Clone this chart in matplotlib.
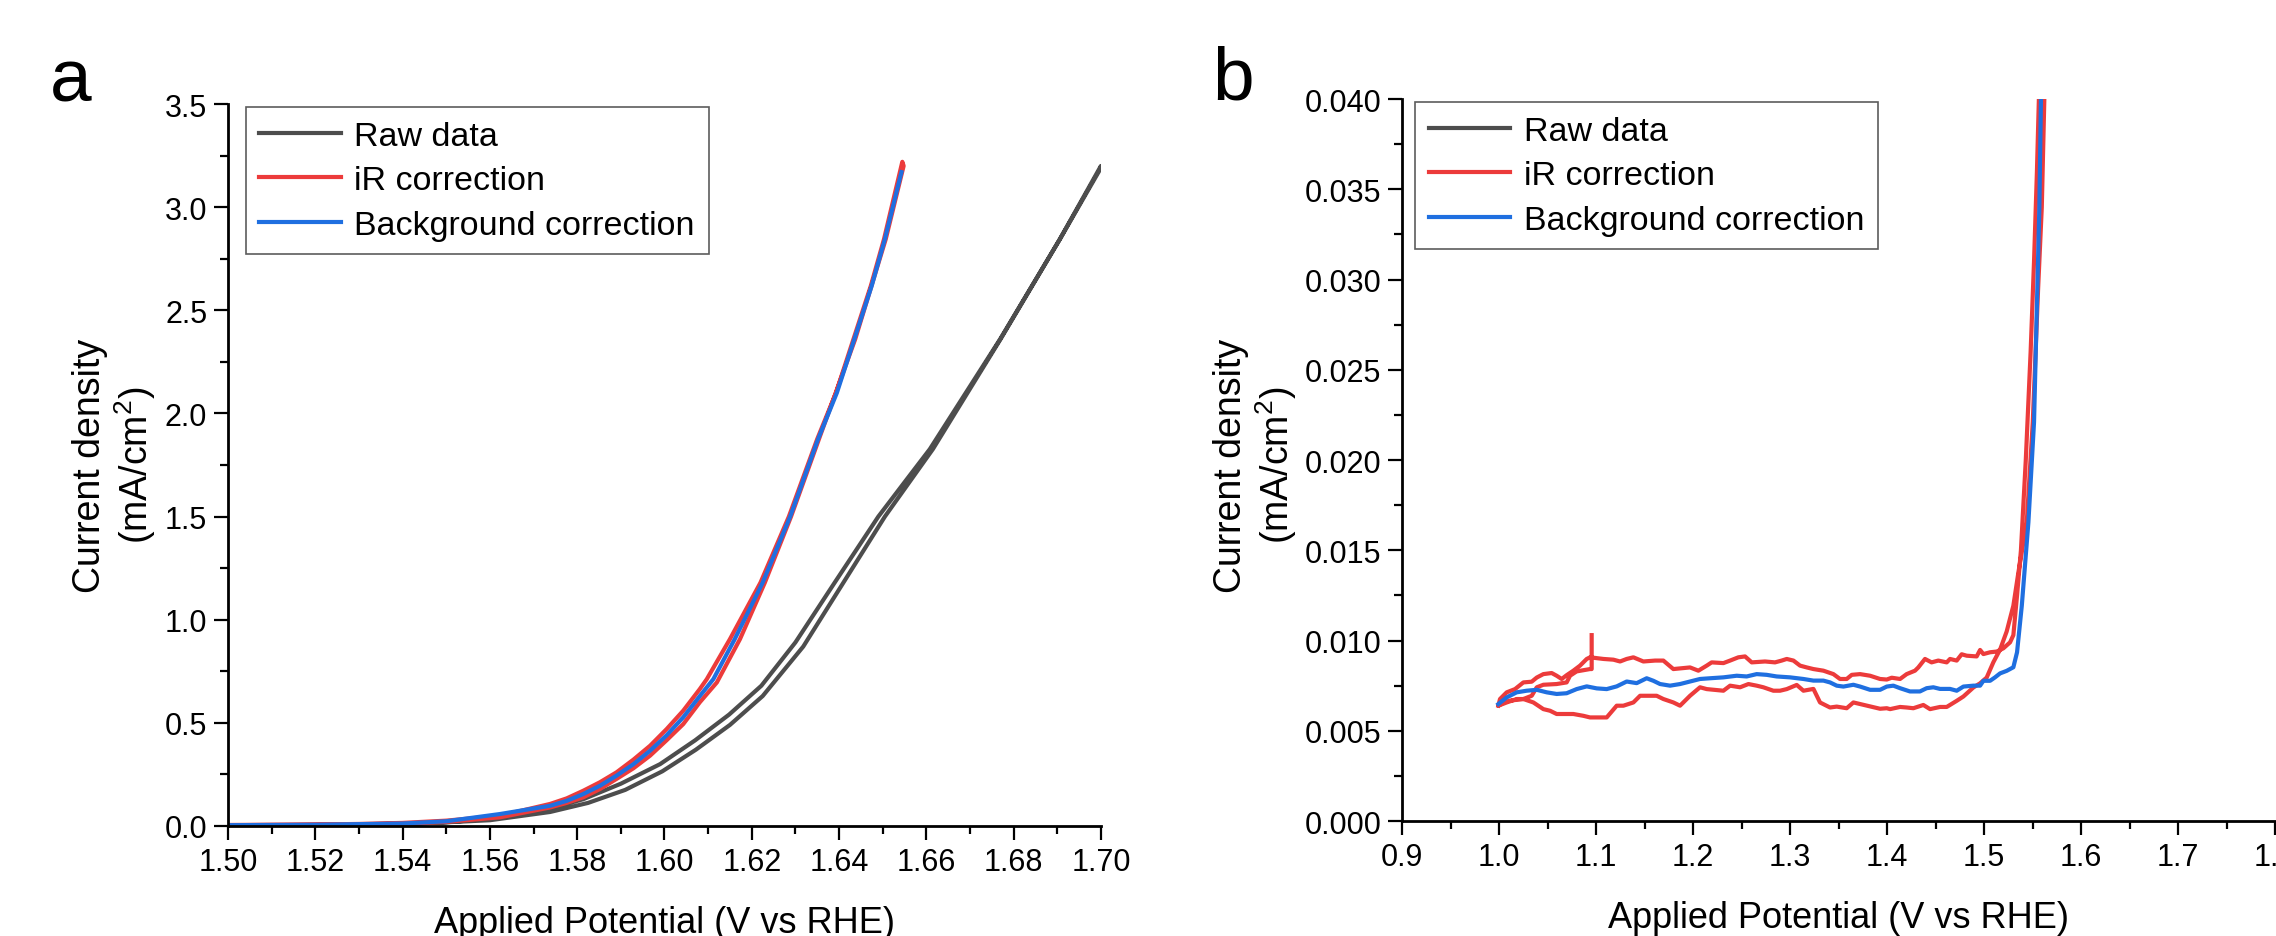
import matplotlib
matplotlib.use("Agg")
import matplotlib.pyplot as plt
from matplotlib.ticker import MultipleLocator, FormatStrFormatter

# ------------------------------
# Style
# ------------------------------
plt.rcParams["font.family"] = ["Liberation Sans", "DejaVu Sans"]
plt.rcParams["mathtext.fontset"] = "custom"
plt.rcParams["mathtext.rm"] = "Liberation Sans"
plt.rcParams["mathtext.it"] = "Liberation Sans:italic"

GRAY = "#4d4d4d"
RED = "#ec3b3b"
BLUE = "#1f6fe0"

# ------------------------------
# Panel a data (V vs RHE, mA/cm2)
# ------------------------------
raw_up_v = [1.500, 1.520, 1.540, 1.550, 1.560, 1.5738, 1.5814, 1.590, 1.5990, 1.6070,
            1.6148, 1.6222, 1.6300, 1.6390, 1.6490, 1.6608, 1.6769, 1.6906, 1.700]
raw_up_j = [0.003, 0.005, 0.010, 0.018, 0.035, 0.085, 0.130, 0.205, 0.300, 0.415,
            0.540, 0.680, 0.890, 1.180, 1.500, 1.827, 2.360, 2.845, 3.200]
raw_dn_v = [1.700, 1.6906, 1.677, 1.6615, 1.6505, 1.6410, 1.6318, 1.6225, 1.6150, 1.6072,
            1.5995, 1.591, 1.5825, 1.5738, 1.560, 1.540, 1.500]
raw_dn_j = [3.190, 2.845, 2.360, 1.827, 1.500, 1.180, 0.870, 0.630, 0.490, 0.370,
            0.265, 0.175, 0.112, 0.068, 0.028, 0.008, 0.002]

ir_up_v = [1.500, 1.520, 1.530, 1.540, 1.550, 1.5623, 1.5738, 1.5776, 1.5814, 1.5852,
           1.589, 1.5929, 1.5967, 1.6005, 1.6043, 1.6081, 1.6097, 1.615, 1.622, 1.6285,
           1.635, 1.6393, 1.6433, 1.6473, 1.6503, 1.6545]
ir_up_j = [0.005, 0.007, 0.010, 0.015, 0.026, 0.050, 0.107, 0.134, 0.171, 0.212,
           0.260, 0.322, 0.389, 0.470, 0.559, 0.664, 0.712, 0.906, 1.180, 1.500,
           1.876, 2.100, 2.360, 2.620, 2.845, 3.220]
ir_dn_v = [1.6548, 1.6507, 1.6437, 1.6354, 1.629, 1.623, 1.6173, 1.612, 1.6081, 1.6043,
           1.6005, 1.5967, 1.5929, 1.589, 1.5852, 1.5814, 1.5776, 1.5738, 1.5623, 1.550,
           1.540, 1.520, 1.500]
ir_dn_j = [3.200, 2.845, 2.360, 1.876, 1.500, 1.180, 0.906, 0.696, 0.600, 0.494,
           0.416, 0.341, 0.280, 0.228, 0.179, 0.139, 0.112, 0.090, 0.042, 0.020,
           0.011, 0.006, 0.004]

bg_v = [1.500, 1.520, 1.540, 1.550, 1.5623, 1.5738, 1.5776, 1.5814, 1.5852, 1.589,
        1.5929, 1.5967, 1.6005, 1.6043, 1.6081, 1.6112, 1.6161, 1.6225, 1.6288, 1.6352,
        1.6395, 1.6435, 1.6475, 1.6505, 1.6543]
bg_j = [0.004, 0.006, 0.012, 0.023, 0.058, 0.098, 0.122, 0.155, 0.195, 0.244,
        0.300, 0.365, 0.440, 0.527, 0.630, 0.712, 0.906, 1.180, 1.500, 1.876,
        2.100, 2.360, 2.620, 2.845, 3.170]

# ------------------------------
# Panel b data (zoom on the low current region)
# ------------------------------
# iR correction: forward scan, backward scan, then restart up to 1.1 V (spike)
ir_b_v = [0.9993, 1.0010, 1.0079, 1.0165, 1.0251, 1.0337, 1.0389, 1.0457, 1.0543, 1.0594,
          1.0646, 1.0697, 1.0766, 1.0835, 1.0904, 1.0938, 1.1076, 1.1179, 1.1248, 1.1316,
          1.1385, 1.1488, 1.1609, 1.1694, 1.1797, 1.1969, 1.2055, 1.2141, 1.2192, 1.2313,
          1.2382, 1.2467, 1.2536, 1.2605, 1.2742, 1.2845, 1.2914, 1.2966, 1.3035, 1.3103,
          1.3172, 1.3241, 1.3344, 1.3447, 1.3515, 1.3584, 1.3636, 1.3722, 1.3825, 1.3928,
          1.3997, 1.4048, 1.4134, 1.4202, 1.4288, 1.4322, 1.4391, 1.4459, 1.4528, 1.4615,
          1.4649, 1.4718, 1.4769, 1.4821, 1.4924, 1.4959, 1.4993, 1.5062, 1.5131, 1.5199,
          1.5268, 1.5302, 1.5340, 1.5380, 1.5430, 1.5480, 1.5515, 1.5545, 1.5575,
          # backward
          1.5630, 1.5595, 1.5557, 1.5502, 1.5440, 1.5354, 1.5302, 1.5233, 1.5165, 1.5096,
          1.5027, 1.4959, 1.4890, 1.4787, 1.4718, 1.4649, 1.4615, 1.4546, 1.4443, 1.4374,
          1.4271, 1.4202, 1.4134, 1.4031, 1.3997, 1.3928, 1.3721, 1.3653, 1.3584, 1.3481,
          1.3412, 1.3309, 1.3241, 1.3138, 1.3069, 1.2966, 1.2897, 1.2828, 1.2725, 1.2656,
          1.2571, 1.2485, 1.2382, 1.2313, 1.2141, 1.2072, 1.1969, 1.1866, 1.1797, 1.1694,
          1.1625, 1.1557, 1.1454, 1.1385, 1.1282, 1.1213, 1.1110, 1.1041, 1.0938, 1.0869,
          1.0766, 1.0594, 1.0526, 1.0457, 1.0354, 1.0251, 1.0182, 1.0079, 0.9993,
          # restart towards 1.1 V
          1.0045, 1.0113, 1.0251, 1.0337, 1.0389, 1.0457, 1.0594, 1.0697, 1.0732, 1.0800,
          1.0938, 1.0955, 1.0955]
ir_b_j = [0.00639, 0.00676, 0.00713, 0.00731, 0.00768, 0.00772, 0.00795, 0.00814, 0.00820, 0.00805,
          0.00787, 0.00808, 0.00833, 0.00861, 0.00898, 0.00907, 0.00898, 0.00894, 0.00884, 0.00898,
          0.00907, 0.00884, 0.00889, 0.00889, 0.00842, 0.00851, 0.00833, 0.00861, 0.00879, 0.00875,
          0.00889, 0.00907, 0.00912, 0.00879, 0.00884, 0.00879, 0.00889, 0.00898, 0.00889, 0.00861,
          0.00851, 0.00842, 0.00833, 0.00814, 0.00787, 0.00787, 0.00810, 0.00814, 0.00805, 0.00787,
          0.00784, 0.00794, 0.00787, 0.00814, 0.00833, 0.00851, 0.00898, 0.00879, 0.00889, 0.00879,
          0.00898, 0.00889, 0.00924, 0.00916, 0.00912, 0.00948, 0.00925, 0.00935, 0.00939, 0.00957,
          0.00990, 0.01030, 0.01250, 0.01500, 0.02000, 0.02600, 0.03100, 0.03600, 0.04200,
          # backward
          0.04200, 0.03400, 0.02947, 0.02209, 0.01655, 0.01378, 0.01193, 0.01050, 0.00950, 0.00880,
          0.00795, 0.00763, 0.00740, 0.00690, 0.00666, 0.00643, 0.00632, 0.00632, 0.00620, 0.00643,
          0.00625, 0.00629, 0.00632, 0.00620, 0.00625, 0.00622, 0.00648, 0.00657, 0.00625, 0.00634,
          0.00629, 0.00657, 0.00732, 0.00722, 0.00754, 0.00731, 0.00722, 0.00722, 0.00741, 0.00750,
          0.00759, 0.00741, 0.00750, 0.00722, 0.00731, 0.00741, 0.00694, 0.00639, 0.00657, 0.00676,
          0.00694, 0.00694, 0.00694, 0.00657, 0.00639, 0.00639, 0.00574, 0.00574, 0.00574, 0.00583,
          0.00593, 0.00593, 0.00611, 0.00620, 0.00657, 0.00676, 0.00676, 0.00657, 0.00639,
          # restart
          0.00657, 0.00667, 0.00676, 0.00694, 0.00741, 0.00755, 0.00759, 0.00768, 0.00805, 0.00829,
          0.00842, 0.00842, 0.01030]

bg_b_v = [0.9993, 1.0079, 1.0182, 1.0285, 1.0389, 1.0492, 1.0594, 1.0697, 1.0800, 1.0904,
          1.1007, 1.1110, 1.1213, 1.1316, 1.1419, 1.1522, 1.1591, 1.1660, 1.1763, 1.1866,
          1.1969, 1.2072, 1.2175, 1.2313, 1.2450, 1.2553, 1.2656, 1.2759, 1.2862, 1.3000,
          1.3138, 1.3241, 1.3344, 1.3412, 1.3481, 1.3550, 1.3653, 1.3722, 1.3825, 1.3928,
          1.3997, 1.4065, 1.4134, 1.4236, 1.4339, 1.4408, 1.4477, 1.4546, 1.4649, 1.4718,
          1.4787, 1.4890, 1.4959, 1.4993, 1.5062, 1.5113, 1.5165, 1.5233, 1.5302, 1.5340,
          1.5389, 1.5457, 1.5515, 1.5570, 1.5600]
bg_b_j = [0.00648, 0.00685, 0.00713, 0.00722, 0.00727, 0.00713, 0.00704, 0.00708, 0.00731, 0.00746,
          0.00735, 0.00731, 0.00746, 0.00773, 0.00764, 0.00791, 0.00777, 0.00759, 0.00750, 0.00759,
          0.00773, 0.00787, 0.00791, 0.00796, 0.00805, 0.00801, 0.00814, 0.00810, 0.00801, 0.00796,
          0.00787, 0.00778, 0.00778, 0.00768, 0.00750, 0.00745, 0.00755, 0.00745, 0.00727, 0.00727,
          0.00745, 0.00750, 0.00736, 0.00718, 0.00718, 0.00736, 0.00741, 0.00732, 0.00732, 0.00722,
          0.00745, 0.00750, 0.00750, 0.00777, 0.00777, 0.00796, 0.00818, 0.00832, 0.00852, 0.00935,
          0.01193, 0.01655, 0.02209, 0.03400, 0.04500]

# axis ranges
a_xlim = (1.50, 1.70)
a_ylim = (0.0, 3.5)
b_xlim = (0.9, 1.8)
b_ylim = (0.0, 0.040)


def style_axis(ax):
    ax.spines["top"].set_visible(False)
    ax.spines["right"].set_visible(False)
    ax.spines["left"].set_linewidth(2)
    ax.spines["bottom"].set_linewidth(2)
    ax.tick_params(which="major", direction="out", length=10, width=1.6, labelsize=22, pad=5)
    ax.tick_params(which="minor", direction="out", length=5.5, width=1.6)


def add_legend(ax, x0):
    leg = ax.legend(loc="upper left", bbox_to_anchor=(x0, 0.996), borderaxespad=0,
                    fontsize=24.5, frameon=True, fancybox=False, edgecolor="#333333",
                    handlelength=2.4, handletextpad=0.4, labelspacing=0.4, borderpad=0.4)
    leg.get_frame().set_linewidth(1.2)
    return leg


fig = plt.figure(figsize=(22.76, 9.37), dpi=100)

# ------------------------------
# Panel a
# ------------------------------
ax1 = fig.add_axes([0.1002, 0.1174, 0.3835, 0.7705])
ax1.plot(raw_up_v + raw_dn_v, raw_up_j + raw_dn_j, color=GRAY, lw=3, label="Raw data")
ax1.plot(ir_up_v + ir_dn_v, ir_up_j + ir_dn_j, color=RED, lw=3, label="iR correction")
ax1.plot(bg_v, bg_j, color=BLUE, lw=3, label="Background correction")
ax1.set_xlim(*a_xlim)
ax1.set_ylim(*a_ylim)
ax1.xaxis.set_major_locator(MultipleLocator(0.02))
ax1.xaxis.set_minor_locator(MultipleLocator(0.01))
ax1.xaxis.set_major_formatter(FormatStrFormatter("%.2f"))
ax1.yaxis.set_major_locator(MultipleLocator(0.5))
ax1.yaxis.set_minor_locator(MultipleLocator(0.25))
ax1.yaxis.set_major_formatter(FormatStrFormatter("%.1f"))
style_axis(ax1)
ax1.set_xlabel("Applied Potential (V vs RHE)", fontsize=26, labelpad=20)
add_legend(ax1, 0.02)

# ------------------------------
# Panel b
# ------------------------------
ax2 = fig.add_axes([0.6160, 0.1227, 0.3836, 0.7705])
ax2.plot([], [], color=GRAY, lw=3, label="Raw data")
ax2.plot(ir_b_v, ir_b_j, color=RED, lw=3, label="iR correction")
ax2.plot(bg_b_v, bg_b_j, color=BLUE, lw=3, label="Background correction")
ax2.set_xlim(*b_xlim)
ax2.set_ylim(*b_ylim)
ax2.xaxis.set_major_locator(MultipleLocator(0.1))
ax2.xaxis.set_minor_locator(MultipleLocator(0.05))
ax2.xaxis.set_major_formatter(FormatStrFormatter("%.1f"))
ax2.yaxis.set_major_locator(MultipleLocator(0.005))
ax2.yaxis.set_minor_locator(MultipleLocator(0.0025))
ax2.yaxis.set_major_formatter(FormatStrFormatter("%.3f"))
style_axis(ax2)
ax2.set_xlabel("Applied Potential (V vs RHE)", fontsize=26, labelpad=20)
add_legend(ax2, 0.015)

# y labels and panel letters
for xc in (115 / 2276, 1256 / 2276):
    fig.text(xc, 0.503, "Current density\n(mA/cm$^2$)", rotation=90, ha="center",
             va="center", fontsize=27, linespacing=1.12, multialignment="center")
fig.text(50 / 2276, 1 - 102 / 937, "a", fontsize=54, ha="left", va="baseline")
fig.text(1212 / 2276, 1 - 99 / 937, "b", fontsize=54, ha="left", va="baseline")

fig.savefig("out.png", dpi=100)
